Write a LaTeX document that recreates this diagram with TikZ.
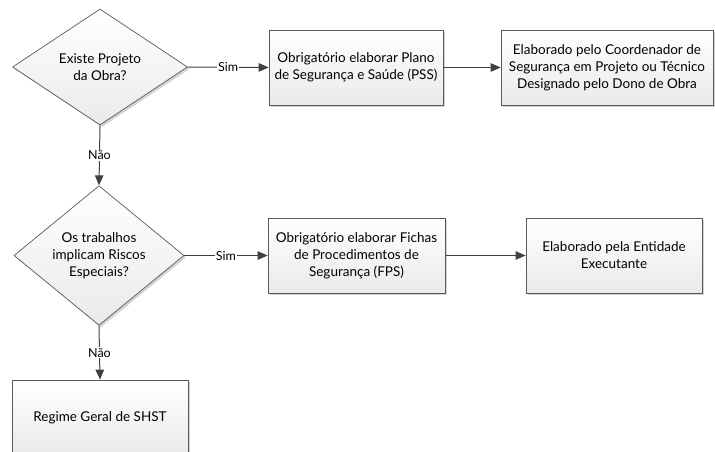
\documentclass[tikz,border=0pt]{standalone}
\usepackage{fontspec}
\setmainfont{Lato}
\usetikzlibrary{shapes.geometric,arrows.meta,shadows}
\definecolor{edgegray}{HTML}{404040}
\definecolor{boxline}{HTML}{5A5A5A}
\definecolor{boxbot}{HTML}{EAEAEA}
\begin{document}
\begin{tikzpicture}[x=1pt,y=-1pt,
  font=\fontsize{13.5}{17}\selectfont,
  shapebase/.style={draw=boxline, line width=0.7pt, top color=white, bottom color=boxbot,
    align=center, inner sep=0pt,
    drop shadow={shadow xshift=2pt, shadow yshift=-2pt, opacity=0.35, fill=gray}},
  boxstyle/.style={shapebase, rectangle, minimum height=75pt},
  decstyle/.style={shapebase, diamond},
  conn/.style={draw=edgegray, line width=1pt, -{Triangle[length=10pt,width=8.5pt]}},
  lbl/.style={fill=white, inner sep=1pt, font=\fontsize{12.5}{14}\selectfont, text=black}]
\useasboundingbox (0,0) rectangle (715,452);

\node[decstyle, minimum width=175pt, minimum height=116pt] (d1) at (100,67) {Existe Projeto\\da Obra?};
\node[boxstyle, minimum width=174pt] (b1) at (356,67.5) {Obrigatório elaborar Plano\\de Segurança e Saúde (PSS)};
\node[boxstyle, minimum width=212pt] (b2) at (607,67.5) {Elaborado pelo Coordenador de\\Segurança em Projeto ou Técnico\\Designado pelo Dono de Obra};

\node[decstyle, minimum width=170pt, minimum height=121pt] (d2) at (99,255.5) {Os trabalhos\\implicam Riscos\\Especiais?};
\node[boxstyle, minimum width=177pt] (b3) at (356.5,255.5) {Obrigatório elaborar Fichas\\de Procedimentos de\\Segurança (FPS)};
\node[boxstyle, minimum width=176pt] (b4) at (614,255.5) {Elaborado pela Entidade\\Executante};

\node[boxstyle, minimum width=176pt] (b5) at (100,417.5) {Regime Geral de SHST};

\draw[conn] (d1.east) -- node[lbl] {Sim} (b1.west);
\draw[conn] (b1.east) -- (b2.west);
\draw[conn] (d1.south) -- node[lbl] {Não} (d2.north);
\draw[conn] (d2.east) -- node[lbl] {Sim} (b3.west);
\draw[conn] (b3.east) -- (b4.west);
\draw[conn] (d2.south) -- node[lbl] {Não} (b5.north);
\end{tikzpicture}
\end{document}
